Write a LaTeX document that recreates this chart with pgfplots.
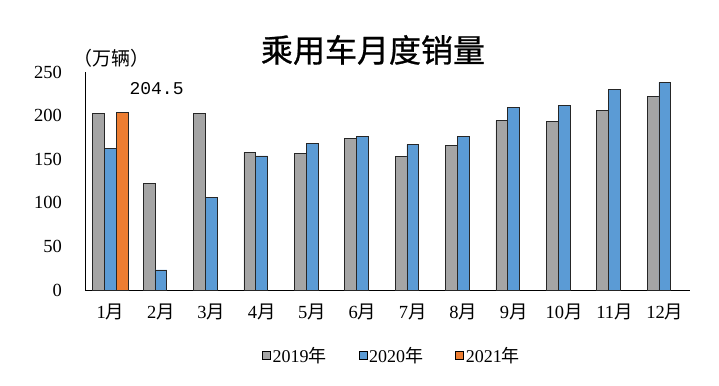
\documentclass[border=0pt]{standalone}
\usepackage{pgfplots}
\pgfplotsset{compat=1.18}
\usepackage{fontspec}
\setmainfont{Liberation Serif}
\setmonofont{Liberation Mono}
\newfontfamily\cjk{Noto Sans CJK SC}
\newfontfamily\cjkt[FakeBold=0.8]{Noto Sans CJK SC}
\definecolor{cg}{HTML}{A5A5A5}
\definecolor{cb}{HTML}{5B9BD5}
\definecolor{co}{HTML}{ED7D31}
\newcommand{\yue}{{\cjk 月}}
\newcommand{\nian}{{\cjk 年}}
\begin{document}
\begin{tikzpicture}[x=1pt,y=1pt]
\useasboundingbox (0,0) rectangle (719,385);
\begin{axis}[
  at={(85.3pt,95pt)}, anchor=south west,
  scale only axis, width=604.7pt, height=217.7pt,
  xmin=0.5, xmax=12.5, ymin=0, ymax=250,
  ybar=0pt, bar width=11.8pt,
  axis x line=bottom, axis y line=left,
  axis line style={-, black, line width=0.8pt},
  xtick={1,...,12},
  xticklabels={1\yue,2\yue,3\yue,4\yue,5\yue,6\yue,7\yue,8\yue,9\yue,10\yue,11\yue,12\yue},
  ytick={0,50,100,150,200,250},
  major tick length=0pt,
  tick label style={font=\fontsize{18.5}{18.5}\selectfont},
  /pgf/number format/assume math mode=true,
  yticklabel style={xshift=-20pt},
  xticklabel style={yshift=-10pt},
  legend style={at={(0.507,-0.3)}, anchor=center, draw=none, fill=none,
    legend columns=3, font=\fontsize{18}{18}\selectfont,
    /tikz/every even column/.append style={column sep=30pt}},
  legend image code/.code={\draw[#1, draw=black, line width=0.6pt] (0pt,-4pt) rectangle (8pt,4pt);},
  every axis plot/.append style={draw=black!85, line width=0.6pt},
  clip=false,
]
\addplot[fill=cg] coordinates {(1,202.5) (2,122.5) (3,203) (4,158) (5,157.3) (6,174) (7,153.8) (8,166) (9,194.4) (10,194) (11,206.7) (12,222.7)};
\addlegendentry{2019\nian}
\addplot[fill=cb] coordinates {(1,162.3) (2,23) (3,106) (4,154) (5,168) (6,176.8) (7,166.9) (8,176) (9,209.7) (10,211.6) (11,230.8) (12,238.5)};
\addlegendentry{2020\nian}
\addplot[fill=co] coordinates {(1,204.5)};
\addlegendentry{2021\nian}
\node[font=\ttfamily\fontsize{18}{18}\selectfont] at (axis cs:1.914,230.8) {204.5};
\end{axis}
\node[anchor=west, font=\cjk\fontsize{19}{19}\selectfont] at (70,327) {（万辆）};
\node[font=\cjkt\fontsize{32}{32}\selectfont] at (373,335) {乘用车月度销量};
\end{tikzpicture}
\end{document}
